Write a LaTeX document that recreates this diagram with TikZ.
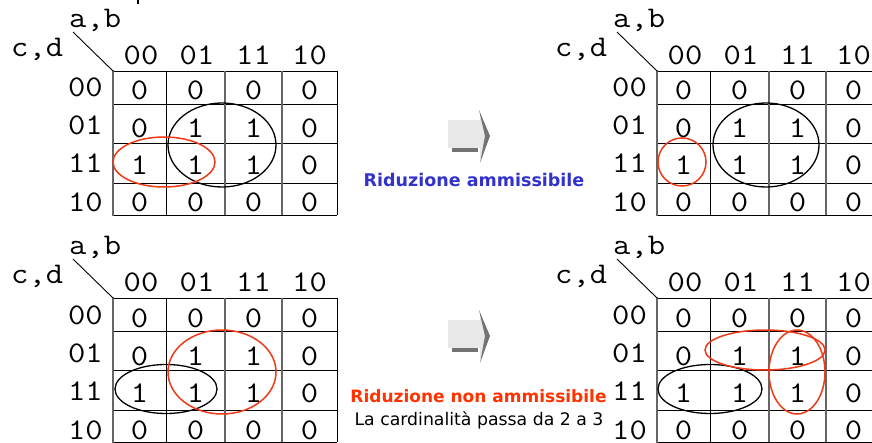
\documentclass[tikz,border=0pt]{standalone}
\usepackage{fontspec}
\newfontfamily\kmono{Latin Modern Mono}[FakeStretch=1.12]
\newfontfamily\ksans{DejaVu Sans}
\definecolor{kred}{RGB}{238,58,22}
\definecolor{tred}{RGB}{255,51,0}
\definecolor{tblue}{RGB}{51,51,204}
\tikzset{
  mono/.style={font=\kmono\fontsize{30}{32}\selectfont, inner sep=0pt},
  hline/.style={draw=black, line width=0.9pt},
  vline/.style={draw=black!60, line width=1.6pt},
  blackloop/.style={draw=black, line width=1.3pt},
  redloop/.style={draw=kred, line width=1.5pt},
  bluetext/.style={font=\ksans\bfseries\fontsize{17.5}{20}\selectfont, text=tblue, inner sep=0pt},
  redtext/.style={font=\ksans\bfseries\fontsize{17}{20}\selectfont, text=tred, inner sep=0pt},
  plaintext/.style={font=\ksans\fontsize{17.3}{20}\selectfont, text=black, inner sep=0pt},
  arrowbody/.style={fill=black!9},
  arrowshade/.style={fill=black!55},
}
\newcommand{\kmap}[1]{%
  \draw[hline] (113,71) -- (337,71) (113,104) -- (337,104) (113,143) -- (337,143)
               (113,183) -- (337,183) (113,215) -- (337,215)
               (166,71) -- (166,215) (337,71) -- (337,215);
  \draw[vline] (113,70) -- (113,216) (225,71) -- (225,215) (282,71) -- (282,215);
  \node[mono, anchor=base west] (#1-ab) at (69,28) {a,b};
  \node[mono, anchor=base west] (#1-cd) at (11,57) {c,d};
  \coordinate (#1-corner) at (113,71);
  \coordinate (#1-diag) at (73,32);
  \draw[line width=0.9pt] (#1-diag) -- (#1-corner);
  \node[mono, anchor=base] (#1-h0) at (141,65) {00};
  \node[mono, anchor=base] (#1-h1) at (197,65) {01};
  \node[mono, anchor=base] (#1-h2) at (253.5,65) {11};
  \node[mono, anchor=base] (#1-h3) at (309.5,65) {10};
  \node[mono, anchor=base east] (#1-v0) at (103,97) {00};
  \node[mono, anchor=base east] (#1-v1) at (103,135) {01};
  \node[mono, anchor=base east] (#1-v2) at (103,173) {11};
  \node[mono, anchor=base east] (#1-v3) at (103,212) {10};
  \foreach \r/\yb/\a/\b/\cc/\d in {0/100/0/0/0/0, 1/138/0/1/1/0, 2/175/1/1/1/0, 3/212/0/0/0/0}{
    \node[mono, anchor=base] (#1-c\r-0) at (139.5,\yb) {\a};
    \node[mono, anchor=base] (#1-c\r-1) at (195.5,\yb) {\b};
    \node[mono, anchor=base] (#1-c\r-2) at (253.5,\yb) {\cc};
    \node[mono, anchor=base] (#1-c\r-3) at (309.5,\yb) {\d};
  }
}
\newcommand{\garrow}{%
  \fill[arrowbody] (448,120) rectangle (480,148);
  \fill[arrowshade] (452,148) rectangle (478,152);
  \fill[arrowbody] (480,112) -- (486,136) -- (480,160) -- cycle;
  \fill[arrowshade] (479,110) -- (490,136) -- (480,163) -- (485,136) -- cycle;
}
\begin{document}
\begin{tikzpicture}[x=1pt,y=-1pt]
\useasboundingbox (0,0) rectangle (872,443);
\clip (0,0) rectangle (872,443);
\fill[white] (0,0) rectangle (872,443);
% top-left
\begin{scope}
  \kmap{tl}
  \draw[blackloop] (222,145) ellipse [x radius=54, y radius=42];
  \draw[redloop] (164,162) ellipse [x radius=51, y radius=25];
\end{scope}
\draw[line width=1.6pt] (138,0) -- (138,4);
% top-right
\begin{scope}[shift={(544,0)}]
  \kmap{tr}
\end{scope}
\draw[redloop] (682,162) circle [radius=24];
\draw[blackloop] (766,145) ellipse [x radius=53, y radius=42];
% bottom-left
\begin{scope}[shift={(0,227)}]
  \kmap{bl}
\end{scope}
\draw[blackloop] (166,389) ellipse [x radius=51, y radius=24.5];
\draw[redloop] (222,372) ellipse [x radius=54, y radius=42];
% bottom-right
\begin{scope}[shift={(544,227)}]
  \kmap{br}
\end{scope}
\draw[blackloop] (710,389) ellipse [x radius=52, y radius=24.5];
\draw[redloop] (765,350) ellipse [x radius=60, y radius=20];
\draw[redloop] (797,372) ellipse [x radius=28, y radius=42];
% arrows
\begin{scope}
  \garrow
\end{scope}
\begin{scope}[shift={(0,200)}]
  \garrow
\end{scope}
% texts
\node[bluetext, anchor=base] (t1) at (474,187) {Riduzione ammissibile};
\node[redtext, anchor=base] (t2) at (478.5,402) {Riduzione non ammissibile};
\node[plaintext, anchor=base] (t3) at (479,425) {La cardinalità passa da 2 a 3};
\end{tikzpicture}
\end{document}
